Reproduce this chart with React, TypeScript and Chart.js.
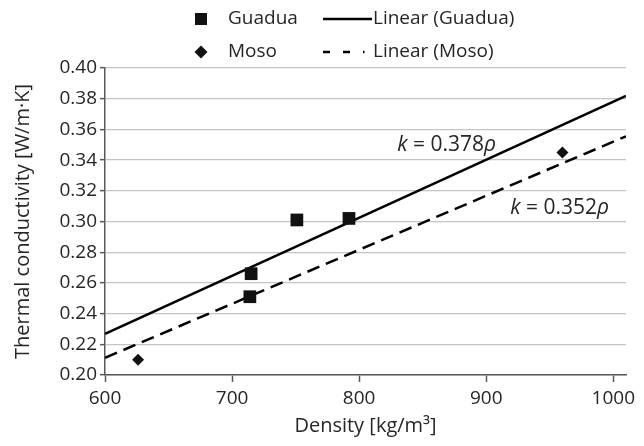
import React, { useEffect, useRef } from 'react';
import { Chart, registerables } from 'chart.js';

Chart.register(...registerables);

// ---- Data ----
const guaduaDensity = [714, 715, 751, 792];
const guaduaConductivity = [0.251, 0.266, 0.301, 0.302];
const mosoDensity = [626, 960];
const mosoConductivity = [0.210, 0.345];
const fitDensity = [600, 1010];
const guaduaFit = [0.2268, 0.3818];
const mosoFit = [0.2112, 0.3555];
const xTickValues = [600, 700, 800, 900, 1000];
const yTickValues = [0.2, 0.22, 0.24, 0.26, 0.28, 0.3, 0.32, 0.34, 0.36, 0.38, 0.4];
const seriesNames = ['Guadua', 'Moso', 'Linear (Guadua)', 'Linear (Moso)'];
const xTitle = 'Density [kg/m\u00B3]';
const yTitle = 'Thermal conductivity [W/m\u00B7K]';
const guaduaLabel = { pre: 'k', mid: ' = 0.378', post: '\u03C1', x: 830, y: 0.3498 };
const mosoLabel = { pre: 'k', mid: ' = 0.352', post: '\u03C1', x: 919, y: 0.3088 };

const FONT = '"Open Sans", "DejaVu Sans", sans-serif';
const TEXT = '#262626';
const AXIS = '#595959';

const toPts = (xs: number[], ys: number[]) => xs.map((x, i) => ({ x, y: ys[i] }));

function drawLabel(ctx: CanvasRenderingContext2D, chart: any, l: any) {
  const px = chart.scales.x.getPixelForValue(l.x);
  const py = chart.scales.y.getPixelForValue(l.y);
  ctx.textBaseline = 'middle';
  ctx.textAlign = 'left';
  ctx.fillStyle = TEXT;
  let x = px;
  ctx.font = `italic 21px ${FONT}`;
  ctx.fillText(l.pre, x, py);
  x += ctx.measureText(l.pre).width;
  ctx.font = `21px ${FONT}`;
  ctx.fillText(l.mid, x, py);
  x += ctx.measureText(l.mid).width;
  ctx.font = `italic 21px ${FONT}`;
  ctx.fillText(l.post, x, py);
}

const annotationPlugin = {
  id: 'annotations',
  afterDatasetsDraw(chart: any) {
    const ctx = chart.ctx as CanvasRenderingContext2D;
    ctx.save();
    drawLabel(ctx, chart, guaduaLabel);
    drawLabel(ctx, chart, mosoLabel);
    ctx.restore();
  },
};

const legendPlugin = {
  id: 'customLegend',
  afterDraw(chart: any) {
    const ctx = chart.ctx as CanvasRenderingContext2D;
    ctx.save();
    ctx.font = `19px ${FONT}`;
    ctx.textBaseline = 'middle';
    ctx.textAlign = 'left';
    const row1 = 19;
    const row2 = 52;
    ctx.fillStyle = '#111';
    ctx.fillRect(201 - 6, row1 - 6, 12, 12);
    ctx.beginPath();
    ctx.moveTo(201, row2 - 6.5);
    ctx.lineTo(207.5, row2);
    ctx.lineTo(201, row2 + 6.5);
    ctx.lineTo(194.5, row2);
    ctx.closePath();
    ctx.fill();
    ctx.fillStyle = TEXT;
    ctx.fillText(seriesNames[0], 228, row1);
    ctx.fillText(seriesNames[1], 228, row2);
    ctx.fillText(seriesNames[2], 373, row1);
    ctx.fillText(seriesNames[3], 373, row2);
    ctx.strokeStyle = '#000';
    ctx.lineWidth = 2.5;
    ctx.beginPath();
    ctx.moveTo(323, row1);
    ctx.lineTo(372, row1);
    ctx.stroke();
    ctx.setLineDash([7, 13]);
    ctx.beginPath();
    ctx.moveTo(323, row2);
    ctx.lineTo(364.5, row2);
    ctx.stroke();
    ctx.restore();
  },
};

export default function App() {
  const ref = useRef<HTMLCanvasElement | null>(null);
  useEffect(() => {
    if (!ref.current) return;
    const chart = new Chart(ref.current, {
      type: 'scatter',
      data: {
        datasets: [
          {
            label: seriesNames[0],
            data: toPts(guaduaDensity, guaduaConductivity),
            pointStyle: 'rect',
            pointRadius: 9,
            pointHoverRadius: 9,
            backgroundColor: '#111',
            borderColor: '#111',
            borderWidth: 0,
            order: 0,
          },
          {
            label: seriesNames[1],
            data: toPts(mosoDensity, mosoConductivity),
            pointStyle: 'rectRot',
            pointRadius: 6,
            pointHoverRadius: 6,
            backgroundColor: '#111',
            borderColor: '#111',
            borderWidth: 0,
            order: 0,
          },
          {
            label: seriesNames[2],
            data: toPts(fitDensity, guaduaFit),
            showLine: true,
            pointRadius: 0,
            borderColor: '#000',
            borderWidth: 2.5,
            order: 1,
          },
          {
            label: seriesNames[3],
            data: toPts(fitDensity, mosoFit),
            showLine: true,
            pointRadius: 0,
            borderColor: '#000',
            borderWidth: 2.5,
            borderDash: [13, 7],
            order: 1,
          },
        ],
      },
      options: {
        animation: false,
        responsive: true,
        maintainAspectRatio: false,
        layout: { padding: { top: 68, right: 18, left: 0, bottom: 0 } },
        plugins: {
          legend: { display: false },
          tooltip: { enabled: false },
        },
        scales: {
          x: {
            type: 'linear',
            min: 600,
            max: 1010,
            afterBuildTicks: (s: any) => { s.ticks = xTickValues.map((v) => ({ value: v })); },
            afterFit: (s: any) => { s.height = 71; s.paddingRight = 0; },
            ticks: {
              font: { family: FONT, size: 19 },
              color: TEXT,
              padding: 5,
              maxRotation: 0,
              callback: (v: any) => String(v),
            },
            grid: {
              drawOnChartArea: false,
              tickLength: 7,
              tickColor: AXIS,
              tickWidth: 1.5,
            },
            border: { color: AXIS, width: 1.5 },
            title: {
              display: true,
              text: xTitle,
              font: { family: FONT, size: 20 },
              color: TEXT,
              padding: { top: 0, bottom: 8 },
            },
          },
          y: {
            type: 'linear',
            min: 0.2,
            max: 0.4,
            afterBuildTicks: (s: any) => { s.ticks = yTickValues.map((v) => ({ value: v })); },
            afterFit: (s: any) => { s.width = 105; },
            ticks: {
              callback: (v: any) => Number(v).toFixed(2),
              font: { family: FONT, size: 19 },
              color: TEXT,
              padding: 3,
            },
            grid: {
              color: '#c4c4c4',
              lineWidth: 1.3,
              tickLength: 5,
              tickColor: AXIS,
              tickWidth: 1.5,
            },
            border: { color: AXIS, width: 1.5 },
            title: {
              display: true,
              text: yTitle,
              font: { family: FONT, size: 20 },
              color: TEXT,
              padding: { top: 11, bottom: 0 },
            },
          },
        },
      } as any,
      plugins: [annotationPlugin, legendPlugin],
    });
    return () => chart.destroy();
  }, []);

  return (
    <div style={{ position: 'fixed', left: 0, top: 0, width: 644, height: 446, background: '#fff' }}>
      <canvas ref={ref} />
    </div>
  );
}
